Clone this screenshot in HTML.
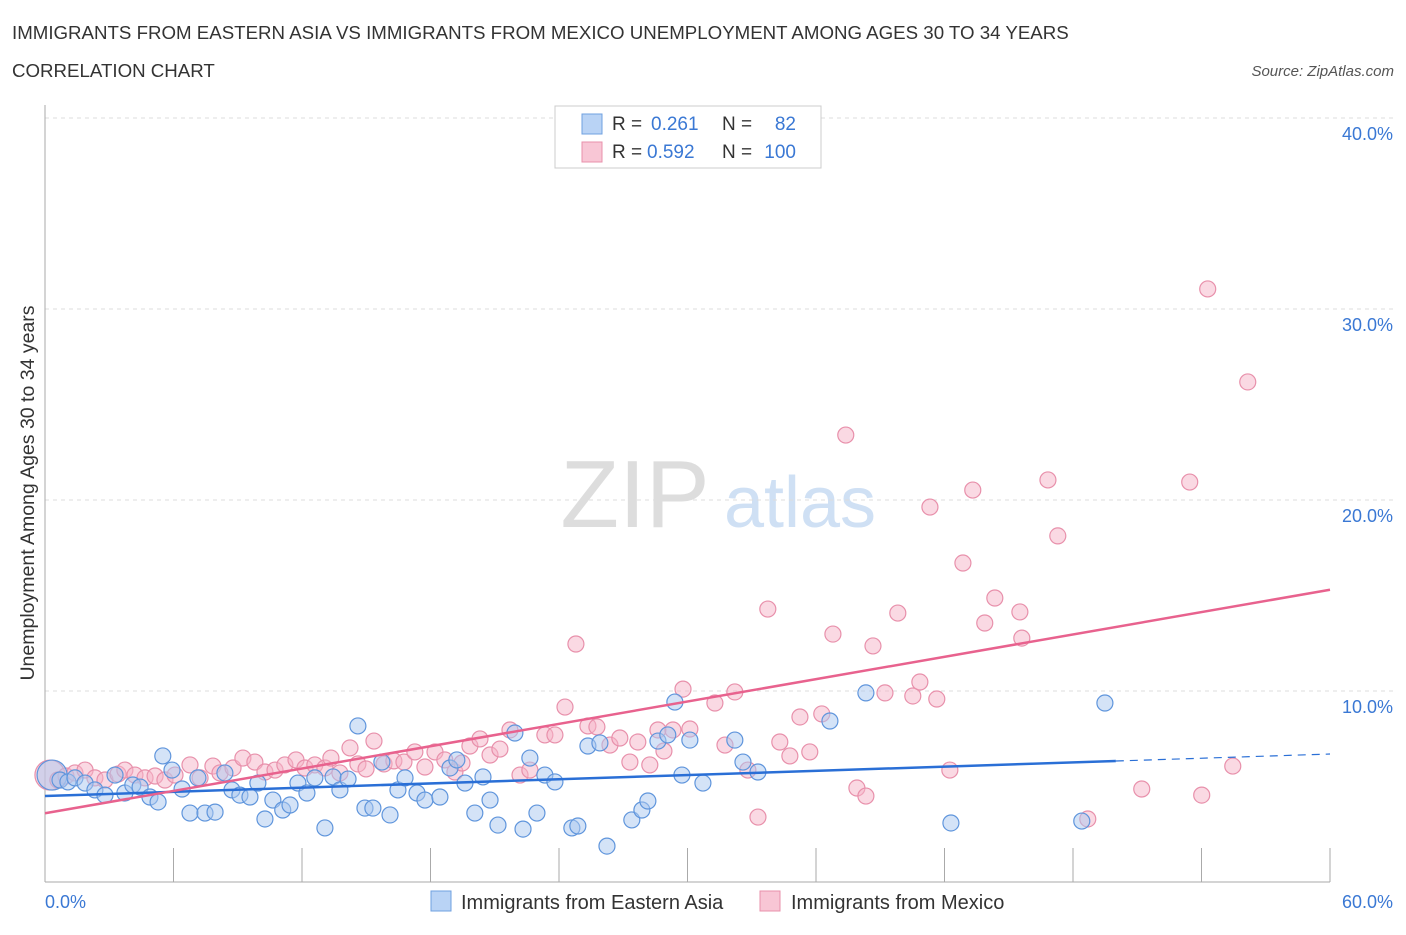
<!DOCTYPE html>
<html><head><meta charset="utf-8"><style>
body{margin:0;background:#fff;font-family:"Liberation Sans",sans-serif;}
svg text{font-family:"Liberation Sans",sans-serif;}
</style></head><body>
<svg id="chart" width="1406" height="930">
<text x="12" y="39" font-size="18.7" fill="#333">IMMIGRANTS FROM EASTERN ASIA VS IMMIGRANTS FROM MEXICO UNEMPLOYMENT AMONG AGES 30 TO 34 YEARS</text>
<text x="12" y="77" font-size="18.7" fill="#333">CORRELATION CHART</text>
<text x="1394" y="76" font-size="15" fill="#555" text-anchor="end" font-style="italic">Source: ZipAtlas.com</text>
<text x="635" y="527" font-size="96" fill="#ddd" font-family="Liberation Serif" text-anchor="middle">ZIP</text>
<text x="800" y="527" font-size="72" fill="#cfe0f4" text-anchor="middle">atlas</text>
<g id="grid"></g>
<g id="axes"></g>
<g id="pink"></g>
<g id="blue"></g>
<g id="lines"></g>
<text transform="translate(34,493) rotate(-90)" font-size="19.5" fill="#333" text-anchor="middle">Unemployment Among Ages 30 to 34 years</text>
<text x="45" y="908" font-size="18" fill="#3a78d4">0.0%</text>
<text x="1393" y="908" font-size="18" fill="#3a78d4" text-anchor="end">60.0%</text>
<g>
<rect x="555" y="106" width="266" height="62" fill="#fff" stroke="#ccc"/>
<rect x="582" y="114" width="20" height="20" fill="#b9d3f5" stroke="#6fa0e0"/>
<rect x="582" y="142" width="20" height="20" fill="#f8c6d5" stroke="#e890ab"/>
<text x="612" y="130" font-size="19" fill="#333">R = </text><text x="651" y="130" font-size="19" fill="#3a78d4">0.261</text>
<text x="722" y="130" font-size="19" fill="#333">N = </text><text x="796" y="130" font-size="19" fill="#3a78d4" text-anchor="end">82</text>
<text x="612" y="158" font-size="19" fill="#333">R = </text><text x="647" y="158" font-size="19" fill="#3a78d4">0.592</text>
<text x="722" y="158" font-size="19" fill="#333">N = </text><text x="796" y="158" font-size="19" fill="#3a78d4" text-anchor="end">100</text>
</g>
<g>
<rect x="431" y="891" width="20" height="20" fill="#b9d3f5" stroke="#6fa0e0"/>
<text x="461" y="909" font-size="20" fill="#333">Immigrants from Eastern Asia</text>
<rect x="760" y="891" width="20" height="20" fill="#f8c6d5" stroke="#e890ab"/>
<text x="791" y="909" font-size="20" fill="#333">Immigrants from Mexico</text>
</g>
</svg>
<script>
const yTicks=[10,20,30,40];
const yTickLabels=["10.0%","20.0%","30.0%","40.0%"];
const xTicks=[0,6,12,18,24,30,36,42,48,54,60];
const blueX=[0.33,0.7,1.07,1.4,1.87,2.33,2.8,3.27,3.73,4.1,4.44,4.9,5.28,5.5,5.93,6.4,6.77,7.14,7.47,7.94,8.4,8.73,9.1,9.57,9.94,10.27,10.64,11.1,11.44,11.81,12.23,12.6,13.07,13.45,13.77,14.15,14.61,14.94,15.31,15.73,16.11,16.48,16.81,17.37,17.74,18.44,18.91,19.23,19.61,20.07,20.45,20.78,21.15,21.94,22.32,22.64,22.97,23.34,23.81,24.6,24.88,25.35,25.91,26.24,27.4,27.87,28.15,28.62,29.08,29.41,29.74,30.11,30.72,32.21,32.59,33.29,36.65,38.33,42.3,48.41,49.49];
const blueY=[5.6,5.34,5.24,5.45,5.18,4.82,4.55,5.6,4.66,5.08,4.97,4.45,4.19,6.6,5.86,4.87,3.61,5.45,3.61,3.66,5.71,4.82,4.55,4.45,5.18,3.3,4.29,3.77,4.03,5.18,4.66,5.45,2.83,5.5,4.82,5.39,8.17,3.87,3.87,6.28,3.51,4.82,5.45,4.66,4.29,4.45,5.97,6.39,5.18,3.61,5.5,4.29,2.98,7.8,2.77,6.49,3.61,5.6,5.24,2.83,2.93,7.12,7.28,1.88,3.25,3.77,4.24,7.38,7.7,9.42,5.6,7.43,5.18,7.43,6.28,5.76,8.43,9.9,3.09,3.19,9.37];
const pinkX=[0.23,0.6,0.98,1.4,1.87,2.33,2.8,3.41,3.73,4.2,4.67,5.14,5.6,6.07,6.77,7.24,7.84,8.17,8.78,9.24,9.8,10.27,10.74,11.2,11.72,12.14,12.6,13.07,13.35,13.77,14.24,14.61,14.99,15.36,15.83,16.29,16.76,17.27,17.74,18.21,18.67,19.14,19.47,19.84,20.31,20.78,21.24,21.71,22.18,22.64,23.34,23.81,24.28,24.79,25.35,25.77,26.38,26.84,27.31,27.68,28.24,28.62,28.9,29.32,29.79,30.11,31.28,31.75,32.21,32.82,33.29,33.75,34.31,34.78,35.25,35.71,36.27,36.79,37.39,37.91,38.33,38.66,39.22,39.82,40.52,40.85,41.32,41.64,42.25,42.86,43.32,43.88,44.35,45.52,45.61,46.83,47.29,48.69,51.21,53.45,54.01,54.29,55.46,56.16];
const pinkY=[5.6,5.34,5.55,5.71,5.86,5.45,5.34,5.65,5.86,5.6,5.45,5.55,5.34,5.6,6.13,5.45,6.07,5.71,5.97,6.49,6.28,5.76,5.86,6.13,6.39,5.97,6.13,5.97,6.49,5.71,7.02,6.18,5.92,7.38,6.18,6.34,6.28,6.81,6.02,6.81,6.39,5.76,6.23,7.12,7.49,6.65,6.96,7.96,5.6,5.86,7.7,7.7,9.16,12.46,8.17,8.12,7.17,7.54,6.28,7.33,6.13,7.96,6.86,7.96,10.1,8.01,9.37,7.17,9.95,5.86,3.4,14.29,7.33,6.6,8.64,6.81,8.8,12.98,23.4,4.92,4.5,12.36,9.9,14.08,9.74,10.47,19.63,9.58,5.86,16.7,20.52,13.56,14.87,14.14,12.77,21.05,18.12,3.3,4.87,20.94,4.55,31.05,6.07,26.18];
const blueTrend=[4.5,6.7];
const pinkTrend=[3.6,15.3];
const NS="http://www.w3.org/2000/svg";
const X0=45,X1=1330,Y0=882,YPX=19.1;
const sx=v=>X0+v/60*(X1-X0);
const sy=v=>Y0-v*YPX;
function mk(tag,attrs,parent){const e=document.createElementNS(NS,tag);for(const k in attrs)e.setAttribute(k,attrs[k]);document.getElementById(parent).appendChild(e);return e;}
yTicks.forEach((t,i)=>{
 const l=mk('line',{x1:X0,x2:1393,y1:sy(t),y2:sy(t),stroke:'#ddd','stroke-dasharray':'4,4'},'grid');
 
 
 const tx=mk('text',{x:1393,y:sy(t)+22,'font-size':18,fill:'#3a78d4','text-anchor':'end'},'grid');
 tx.textContent=yTickLabels[i];
 
 
});
const topLine=mk('line',{x1:X0,x2:1393,y1:118,y2:118,stroke:'#ddd','stroke-dasharray':'4,4'},'grid');


const yAxisLine=mk('line',{x1:X0,x2:X0,y1:105,y2:Y0,stroke:'#aaa'},'axes');


const xAxisLine=mk('line',{x1:X0,x2:X1,y1:Y0,y2:Y0,stroke:'#aaa'},'axes');


xTicks.forEach(t=>{
 const l=mk('line',{x1:sx(t),x2:sx(t),y1:Y0-34,y2:Y0,stroke:'#aaa'},'axes');
 
 
});
function dots(xs,ys,parent,fill,stroke,name){
 xs.forEach((v,i)=>{
  const r=i===0?15:8;
  const c=mk('circle',{cx:sx(v),cy:sy(ys[i]),r:r,fill:fill,'fill-opacity':0.5,stroke:stroke,'stroke-width':1.2},parent);
  
  
 });
}
dots(pinkX,pinkY,'pink','#f5b3c8','#e890ab','mexico-point');
dots(blueX,blueY,'blue','#a9c8f0','#5f95dc','eastern-asia-point');
const bAt=x=>blueTrend[0]+(blueTrend[1]-blueTrend[0])*x/60;
const bl=mk('line',{x1:sx(0),y1:sy(bAt(0)),x2:sx(50),y2:sy(bAt(50)),stroke:'#2a6fd6','stroke-width':2.5},'lines');


const bd=mk('line',{x1:sx(50),y1:sy(bAt(50)),x2:sx(60),y2:sy(bAt(60)),stroke:'#2a6fd6','stroke-width':1.2,'stroke-dasharray':'8,6'},'lines');


const pl=mk('line',{x1:sx(0),y1:sy(pinkTrend[0]),x2:sx(60),y2:sy(pinkTrend[1]),stroke:'#e8628e','stroke-width':2.5},'lines');


</script>
</body></html>
